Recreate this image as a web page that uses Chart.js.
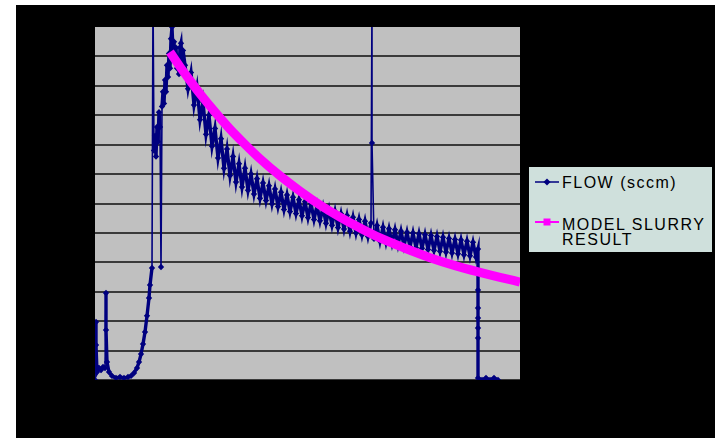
<!DOCTYPE html>
<html>
<head>
<meta charset="utf-8">
<script src="https://cdn.jsdelivr.net/npm/chart.js@4.4.0/dist/chart.umd.min.js"></script>
<style>
  body { margin: 0; background: #fff; width: 715px; height: 438px; overflow: hidden; }
  #wrap { position: absolute; left: 16px; top: 5px; width: 699px; height: 433px; background: #000; }
  #legend { position: absolute; left: 529px; top: 167px; width: 183px; height: 85px; background: #cfe0dc;
            font-family: "Liberation Sans", Arial, sans-serif; font-size: 16px; letter-spacing: 1.5px; color: #000; }
  #legend .item { position: absolute; left: 33px; line-height: 15px; }
  #legend svg { position: absolute; left: 5px; }
</style>
</head>
<body>
<div id="wrap"><canvas id="myChart"></canvas></div>
<div id="legend">
  <svg style="top:10px" width="26" height="10"><line x1="1" y1="5" x2="25" y2="5" stroke="#00007f" stroke-width="1.5"/><rect x="10.5" y="2.5" width="5" height="5" fill="#00007f" transform="rotate(45 13 5)"/></svg>
  <div class="item" style="top:8px">FLOW (sccm)</div>
  <svg style="top:50px" width="26" height="10"><line x1="1" y1="5" x2="25" y2="5" stroke="#ff00ff" stroke-width="2"/><rect x="9.5" y="1.5" width="7" height="7" fill="#ff00ff"/></svg>
  <div class="item" style="top:50px">MODEL SLURRY<br>RESULT</div>
</div>
<script>
const flowTime = [0, 2, 2, 4, 8, 12, 16, 20, 22, 22, 24, 28, 34, 42, 50, 58, 66, 72, 78, 84, 88, 92, 96, 100, 104, 108, 110, 114,
  116, 118, 120, 122, 124, 126, 128, 130, 132, 134, 136, 138, 140, 142, 144, 146, 148, 150, 152, 154, 156, 158, 160,
  162, 164, 166, 168, 170, 172, 174, 176, 178, 180,
  186, 192, 198, 204, 210, 216, 222, 228, 234, 240, 246, 252, 258, 264, 270, 276, 282, 288, 294, 300,
  306, 312, 318, 324, 330, 336, 342, 348, 354, 360, 366, 372, 378, 384, 390, 396, 402, 408, 414, 420,
  426, 432, 438, 444, 450, 456, 462, 468, 474, 480, 486, 492, 498, 504, 510, 516, 522, 528, 534, 540,
  546, 552, 554, 554, 558, 564, 570, 576, 582, 588, 594, 600, 606, 612, 618, 624, 630, 636, 642, 648,
  654, 660, 666, 672, 678, 684, 690, 696, 702, 708, 714, 720, 726, 732, 738, 744, 750, 756, 762,
  766, 766, 766, 766, 766, 766, 766, 774, 782, 790, 798, 806];
const flowValue = [0, 19.7, 11.9, 2.7, 4.1, 3.4, 4.4, 4.1, 29.6, 17, 6.1, 2.7, 1.4, 0.7, 1, 0.7, 1, 1.4, 2.4, 4.1, 6.1, 8.8, 12.2, 16.3, 21.8, 27.9, 32.3, 38.1,
  130, 78, 83, 76, 86, 81, 91, 86, 38.4, 93, 98, 94, 102, 98, 107, 103, 111, 106, 116, 120, 112, 115, 109,
  113, 106, 110, 104, 113, 114.5, 108, 112, 104, 107,
  99, 104.5, 93.5, 99.5, 88.5, 94.5, 83.5, 90, 79.5, 85.5, 75.5, 82, 72, 78.5, 69.5, 76, 67.3, 73.5, 65.6, 72,
  64.5, 70, 63.2, 68.4, 61.8, 67, 61, 66, 59.9, 64.9, 59, 63.8, 58, 62.9, 57.3, 62.1, 56.6, 61.3, 55.8, 60.6,
  55.2, 60, 54.6, 59.3, 54.1, 58.7, 53.3, 57.9, 52.6, 57.3, 51.8, 56.5, 51.3, 55.9, 50.6, 55.3, 50, 54.6, 49.4, 54,
  48.8, 53.4, 130, 80.6, 48, 52.5, 47.2, 51.9, 46.8, 51.4, 46.5, 51.1, 46, 50.6, 45.6, 50.2, 45.3, 50, 45, 49.7,
  44.8, 49.4, 44.4, 49.1, 44.1, 48.8, 43.8, 48.5, 43.5, 48.1, 43.2, 47.8, 42.9, 47.6, 42.6, 47.2, 42.2, 46.8, 41.8,
  44.5, 30.6, 24.5, 21.1, 17.7, 14.3, 0.7, 0, 0.7, 0, 0.7, 0];

// model slurry result
const modelTime = [150, 170, 190, 210, 240, 270, 300, 330, 370, 410, 450, 490, 530, 570, 620, 670, 720, 770, 810, 850];
const modelValue = [111.5, 106.5, 101.8, 97.3, 91.1, 85.3, 80.1, 75.2, 69.4, 64.2, 59.5, 55.4, 51.7, 48.3, 44.8, 41.6, 38.9, 36.6, 34.9, 33.3];

const yTicks = [0, 10, 20, 30, 40, 50, 60, 70, 80, 90, 100, 110, 120];

const toPoints = (xs, ys) => xs.map((x, i) => ({ x: x, y: ys[i] }));

const plotBg = {
    id: 'plotBg',
    beforeDraw(chart) {
        const a = chart.chartArea;
        chart.ctx.save();
        chart.ctx.fillStyle = '#c0c0c0';
        chart.ctx.fillRect(a.left, a.top, a.right - a.left, a.bottom - a.top);
        chart.ctx.restore();
    }
};

// thin lines for the big jumps, heavier for the noisy band
const segWidth = s => Math.abs(s.p1.parsed.y - s.p0.parsed.y) > 15 ? 1.6 : 3.4;

const ctx = document.getElementById('myChart').getContext('2d');
const myChart = new Chart(ctx, {
    type: 'scatter',
    data: {
        datasets: [{
            label: 'FLOW (sccm)',
            data: toPoints(flowTime, flowValue),
            showLine: true,
            borderColor: '#00007f',
            backgroundColor: '#00007f',
            borderWidth: 2.6,
            segment: { borderWidth: segWidth },
            pointStyle: 'rectRot',
            pointRadius: 3.2,
            pointBorderWidth: 0,
            order: 2
        }, {
            label: 'MODEL SLURRY RESULT',
            data: toPoints(modelTime, modelValue),
            showLine: true,
            borderColor: '#ff00ff',
            backgroundColor: '#ff00ff',
            borderWidth: 9,
            pointRadius: 0,
            cubicInterpolationMode: 'monotone',
            order: 1
        }]
    },
    options: {
        responsive: true,
        maintainAspectRatio: false,
        animation: false,
        layout: { padding: { left: 79, top: 22, right: 195, bottom: 58 } },
        plugins: {
            legend: { display: false },
            tooltip: { enabled: false }
        },
        scales: {
            x: {
                min: 0,
                max: 850,
                ticks: { display: false },
                grid: { display: false, drawTicks: false },
                border: { color: '#000' }
            },
            y: {
                min: 0,
                max: 120,
                afterBuildTicks: axis => { axis.ticks = yTicks.map(v => ({ value: v })); },
                ticks: { display: false },
                border: { display: false },
                grid: {
                    drawTicks: false,
                    lineWidth: 2,
                    color: c => (c.tick && c.tick.value === 120) ? 'rgba(0,0,0,0)' : '#3a3a3a'
                }
            }
        }
    },
    plugins: [plotBg]
});
</script>
</body>
</html>
